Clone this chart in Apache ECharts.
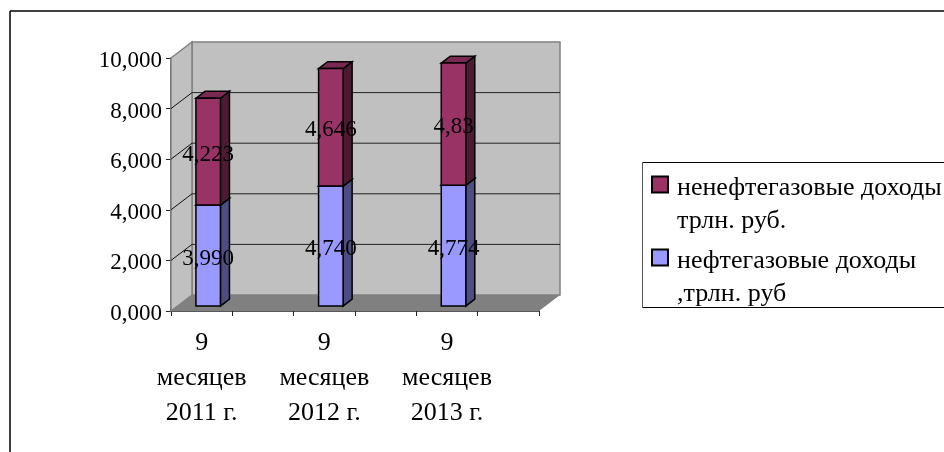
<!DOCTYPE html>
<html>
<head>
<meta charset="utf-8">
<style>
  html, body { margin: 0; padding: 0; background: #fff; overflow: hidden; }
  #chart { width: 944px; height: 452px; }
</style>
<script src="https://cdn.jsdelivr.net/npm/echarts@6/dist/echarts.min.js"></script>
</head>
<body>
<div id="chart"></div>
<script>
// значения, трлн. руб. (пустые категории нужны, чтобы подписи стояли как в оригинале)
const categories = ['9\nмесяцев\n2011 г.', '', '9\nмесяцев\n2012 г.', '', '9\nмесяцев\n2013 г.', ''];
const oilValues = [3.990, null, 4.740, null, 4.774, null];
const nonOilValues = [4.223, null, 4.646, null, 4.83, null];
const oilLabels = ['3,990', '', '4,740', '', '4,774', ''];
const nonOilLabels = ['4,223', '', '4,646', '', '4,83', ''];
const valueTicks = [0, 2, 4, 6, 8, 10];
const oilName = 'нефтегазовые доходы\n,трлн. руб';
const nonOilName = 'ненефтегазовые доходы\nтрлн. руб.';

const FONT = '"Liberation Serif", serif';
const DEPTH_X = 21;
const DEPTH_Y = 16;
const BAR_WIDTH = 24.5;

const chart = echarts.init(document.getElementById('chart'), null, { renderer: 'canvas' });

function poly(points, fill, stroke, lineWidth) {
  return {
    type: 'polygon',
    shape: { points: points },
    style: { fill: fill, stroke: stroke || null, lineWidth: lineWidth || 0 }
  };
}

function line(x1, y1, x2, y2, color, lineWidth) {
  return {
    type: 'line',
    shape: { x1: x1, y1: y1, x2: x2, y2: y2 },
    style: { stroke: color, lineWidth: lineWidth }
  };
}

// задняя стенка, боковая стенка, пол и линии сетки
function renderWalls(params, api) {
  const c = params.coordSys;
  const l = c.x, r = c.x + c.width, t = c.y, b = c.y + c.height;
  const children = [
    poly([[l + DEPTH_X, t - DEPTH_Y], [r + DEPTH_X, t - DEPTH_Y], [r + DEPTH_X, b - DEPTH_Y], [l + DEPTH_X, b - DEPTH_Y]], '#c0c0c0', '#808080', 1.5),
    poly([[l, t], [l + DEPTH_X, t - DEPTH_Y], [l + DEPTH_X, b - DEPTH_Y], [l, b]], '#c0c0c0', '#808080', 1.5),
    poly([[l, b], [l + DEPTH_X, b - DEPTH_Y], [r + DEPTH_X, b - DEPTH_Y], [r, b]], '#808080')
  ];
  valueTicks.forEach(function (v) {
    if (v === 0 || v === 10) return;
    const y = api.coord([0, v])[1];
    children.push(line(l, y, l + DEPTH_X, y - DEPTH_Y, '#111', 1));
    children.push(line(l + DEPTH_X, y - DEPTH_Y, r + DEPTH_X, y - DEPTH_Y, '#222', 1));
  });
  return { type: 'group', children: children };
}

// объёмный сегмент столбца: лицо, бок и верх
function makeBarRender(front, side, top) {
  return function (params, api) {
    const idx = api.value(0);
    const from = api.coord([idx, api.value(1)]);
    const to = api.coord([idx, api.value(2)]);
    const fx = from[0] + DEPTH_X * 0.31;
    const fdy = DEPTH_Y * 0.31;
    const x0 = fx - BAR_WIDTH / 2, x1 = fx + BAR_WIDTH / 2;
    const y0 = from[1] - fdy, y1 = to[1] - fdy;
    const dx = DEPTH_X * 0.43, dy = DEPTH_Y * 0.43;
    const text = api.value(3);
    return {
      type: 'group',
      children: [
        poly([[x1, y0], [x1 + dx, y0 - dy], [x1 + dx, y1 - dy], [x1, y1]], side, '#000', 1.5),
        poly([[x0, y1], [x0 + dx, y1 - dy], [x1 + dx, y1 - dy], [x1, y1]], top, '#000', 1.5),
        poly([[x0, y0], [x1, y0], [x1, y1], [x0, y1]], front, '#000', 1.5),
        {
          type: 'text',
          z2: 10,
          style: {
            x: fx,
            y: (y0 + y1) / 2 + 3,
            text: text,
            fill: '#000',
            font: '23px ' + FONT,
            align: 'center',
            verticalAlign: 'middle'
          }
        }
      ]
    };
  };
}

function barData(values, bases, labels) {
  const res = [];
  values.forEach(function (v, i) {
    if (v === null) return;
    const base = bases ? bases[i] : 0;
    res.push([i, base, base + v, labels[i]]);
  });
  return res;
}

const option = {
  animation: false,
  backgroundColor: '#fff',
  textStyle: { fontFamily: FONT },
  grid: { left: 171, right: 405, top: 58, bottom: 141 },
  xAxis: {
    type: 'category',
    data: categories,
    axisLine: { lineStyle: { color: '#222', width: 1.5 } },
    axisTick: { show: true, length: 5, lineStyle: { color: '#222' } },
    axisLabel: { interval: 0, margin: 15, color: '#000', fontSize: 26, lineHeight: 35, fontFamily: FONT }
  },
  yAxis: {
    type: 'value',
    min: 0,
    max: 10,
    interval: 2,
    axisLine: { show: true, lineStyle: { color: '#444', width: 1.5 } },
    axisTick: { show: true, length: 5, lineStyle: { color: '#222' } },
    splitLine: { show: false },
    axisLabel: {
      margin: 9,
      color: '#000',
      fontSize: 23,
      fontFamily: FONT,
      verticalAlign: 'top',
      lineHeight: 6,
      formatter: function (v) { return v.toFixed(3).replace('.', ','); }
    }
  },
  legend: {
    orient: 'vertical',
    left: 651,
    top: 131,
    itemWidth: 16,
    itemHeight: 16,
    itemGap: -34,
    padding: 0,
    icon: 'rect',
    data: [nonOilName, oilName],
    selectedMode: false,
    // квадрат должен стоять у первой строки, поэтому сверху пустая строка-отступ
    formatter: function (name) {
      return '{gap| }\n' + name.split('\n').map(function (s) { return '{t|' + s + '}'; }).join('\n');
    },
    textStyle: {
      fontFamily: FONT,
      fontSize: 26,
      color: '#000',
      padding: [0, 0, 0, 4],
      rich: {
        gap: { height: 41, lineHeight: 41, fontSize: 10, fontFamily: FONT },
        t: { lineHeight: 33, height: 33, fontSize: 26, color: '#000', fontFamily: FONT }
      }
    }
  },
  graphic: [
    // рамка диаграммы, справа и снизу срезана
    { type: 'line', shape: { x1: 10, y1: 11, x2: 944, y2: 11 }, style: { stroke: '#000', lineWidth: 1.5 } },
    { type: 'line', shape: { x1: 10, y1: 11, x2: 10, y2: 452 }, style: { stroke: '#000', lineWidth: 1.5 } },
    // рамка легенды
    { type: 'line', shape: { x1: 642.5, y1: 162.5, x2: 944, y2: 162.5 }, style: { stroke: '#000', lineWidth: 1 } },
    { type: 'line', shape: { x1: 642.5, y1: 162.5, x2: 642.5, y2: 307.5 }, style: { stroke: '#555', lineWidth: 1 } },
    { type: 'line', shape: { x1: 642.5, y1: 307.5, x2: 944, y2: 307.5 }, style: { stroke: '#000', lineWidth: 1 } }
  ],
  series: [
    {
      name: 'walls',
      type: 'custom',
      silent: true,
      renderItem: renderWalls,
      data: [[0, 0]],
      z: 1
    },
    {
      name: oilName,
      type: 'custom',
      silent: true,
      renderItem: makeBarRender('#9999ff', '#4d4d80', '#7a7acc'),
      itemStyle: { color: '#9999ff', borderColor: '#000', borderWidth: 1.5 },
      encode: { x: 0, y: 2 },
      data: barData(oilValues, null, oilLabels),
      z: 2
    },
    {
      name: nonOilName,
      type: 'custom',
      silent: true,
      renderItem: makeBarRender('#993366', '#4d1a33', '#7a2952'),
      itemStyle: { color: '#993366', borderColor: '#000', borderWidth: 1.5 },
      encode: { x: 0, y: 2 },
      data: barData(nonOilValues, oilValues, nonOilLabels),
      z: 3
    }
  ]
};

chart.setOption(option);
</script>
</body>
</html>
